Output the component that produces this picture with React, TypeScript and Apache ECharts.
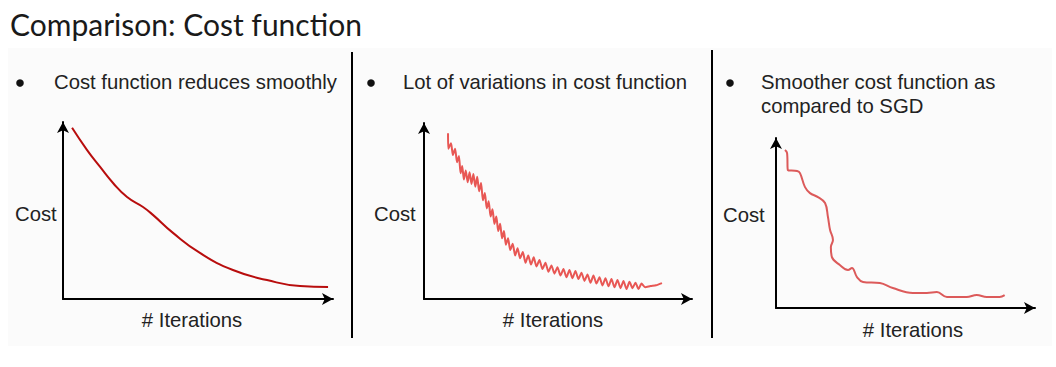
import React, { useEffect, useRef } from "react";
import * as echarts from "echarts";

const title = "Comparison: Cost function";
const bullets = [
  ["Cost function reduces smoothly"],
  ["Lot of variations in cost function"],
  ["Smoother cost function as", "compared to SGD"],
];
const yName = "Cost";
const xName = "# Iterations";

// Batch gradient descent: smooth decrease
const batchData = [
  [3.3, 94.0], [8.7, 81.9], [13.5, 72.5], [18.2, 63.7], [23.3, 56.0], [29.1, 50.5],
  [32.7, 46.2], [40.0, 36.3], [49.8, 25.3], [61.8, 15.9], [74.2, 10.4], [86.2, 7.1], [96.4, 6.6],
];

// Stochastic gradient descent: noisy decrease
const sgdData = [
  [8.8, 91.5], [8.9, 83.0], [9.9, 86.0], [10.6, 79.5], [11.4, 83.0], [12.1, 75.5], [12.8, 79.0],
  [13.4, 69.5], [14.0, 73.5], [14.6, 66.0], [15.3, 71.0], [16.0, 64.5], [16.7, 70.0], [17.4, 63.5],
  [18.1, 69.0], [18.8, 62.0], [19.5, 67.5], [20.2, 59.5], [20.9, 64.0], [21.6, 54.5], [22.3, 58.5],
  [23.0, 50.0], [23.7, 54.0], [24.4, 45.5], [25.1, 49.5], [25.8, 41.5], [26.5, 45.5], [27.2, 37.5],
  [27.9, 41.5], [28.6, 33.5], [29.3, 37.5], [30.0, 30.0], [30.8, 33.5], [31.6, 27.0], [32.5, 30.5],
  [33.4, 24.0], [34.3, 28.0], [35.2, 22.5], [36.2, 26.0], [37.2, 20.0], [38.2, 24.0], [39.2, 19.0],
  [40.2, 23.0], [41.2, 18.0], [42.3, 21.5], [43.4, 16.5], [44.5, 20.0], [45.6, 15.0], [46.7, 18.5],
  [47.8, 14.0], [48.9, 17.5], [50.0, 13.0], [51.1, 16.5], [52.2, 12.0], [53.3, 16.0], [54.4, 11.5],
  [55.5, 15.5], [56.6, 11.0], [57.7, 14.5], [58.8, 10.0], [59.9, 13.5], [61.0, 9.0], [62.1, 13.0],
  [63.2, 8.5], [64.3, 12.0], [65.4, 7.5], [66.5, 11.5], [67.6, 7.0], [68.7, 11.0], [69.8, 6.5],
  [70.9, 10.5], [72.0, 6.0], [73.1, 10.0], [74.2, 5.5], [75.3, 9.5], [76.4, 6.0], [77.5, 9.0],
  [78.6, 5.5], [79.7, 8.5], [81.0, 6.5], [83.0, 7.2], [85.0, 7.6], [87.2, 8.8],
];

// Mini-batch gradient descent: smoother than SGD
const miniBatchData = [
  [3.4, 90.3], [4.2, 88.6], [4.5, 78.9], [8.0, 78.3], [9.1, 77.1], [11.0, 69.1], [12.9, 65.7],
  [15.9, 63.4], [18.6, 60.0], [19.7, 52.0], [20.5, 44.6], [21.6, 38.9], [20.8, 34.9], [21.2, 29.1],
  [24.2, 24.6], [27.3, 21.7], [28.8, 22.9], [30.7, 17.7], [33.0, 14.9], [39.4, 14.3], [44.3, 11.4],
  [51.9, 8.6], [57.2, 8.6], [61.0, 9.1], [64.8, 6.3], [72.3, 6.3], [76.1, 7.4], [79.9, 6.3],
  [84.8, 6.3], [86.7, 7.4],
];

const X_MAX = 98.2;
const Y_MAX = 97.2;

export default function App() {
  const ref = useRef<HTMLDivElement>(null);
  useEffect(() => {
    document.body.style.margin = "0";
    const chart = echarts.init(ref.current!, null, { renderer: "svg" });
    const grids = [
      { left: 63, top: 122, width: 270, height: 177 },
      { left: 424, top: 123, width: 268, height: 176 },
      { left: 776, top: 138, width: 259, height: 170 },
    ];
    const axisLine = {
      show: true,
      symbol: ["none", "arrow"],
      symbolSize: [9, 11],
      lineStyle: { color: "#000", width: 2 },
    };
    const mkAxis = (i: number, max: number) => ({
      type: "value",
      gridIndex: i,
      min: 0,
      max,
      axisLine,
      axisTick: { show: false },
      axisLabel: { show: false },
      splitLine: { show: false },
    });
    const font = "'Liberation Sans', Arial, sans-serif";
    const txt = (text: string, x: number, y: number, align = "left") => ({
      type: "text",
      x,
      y,
      style: {
        text,
        x: 0,
        y: 0,
        font: `20.3px ${font}`,
        fill: "#222",
        textAlign: align,
        textVerticalAlign: "middle",
      },
    });
    const bulletPos = [
      { bx: 20, tx: 54 },
      { bx: 371, tx: 403 },
      { bx: 730, tx: 761 },
    ];
    const graphics: any[] = [
      { type: "rect", shape: { x: 8, y: 48, width: 1044, height: 298 }, style: { fill: "#fbfbfb" }, z: -10 },
      {
        type: "text",
        x: 10,
        y: 24,
        style: { text: title, font: "30px Lato, sans-serif", fill: "#1a1a1a", textVerticalAlign: "middle" },
      },
      { type: "line", shape: { x1: 352, y1: 52, x2: 352, y2: 338 }, style: { stroke: "#000", lineWidth: 2 } },
      { type: "line", shape: { x1: 712, y1: 50, x2: 712, y2: 338 }, style: { stroke: "#000", lineWidth: 2 } },
      txt(yName, 15, 214),
      txt(yName, 374, 214),
      txt(yName, 723, 215),
      txt(xName, 192, 320, "center"),
      txt(xName, 553, 320, "center"),
      txt(xName, 913, 330, "center"),
    ];
    bullets.forEach((lines, i) => {
      graphics.push({ type: "circle", shape: { cx: bulletPos[i].bx, cy: 83, r: 3.8 }, style: { fill: "#111" } });
      lines.forEach((l, j) => graphics.push(txt(l, bulletPos[i].tx, 82 + j * 24)));
    });
    chart.setOption({
      animation: false,
      grid: grids,
      xAxis: [0, 1, 2].map((i) => mkAxis(i, X_MAX)),
      yAxis: [0, 1, 2].map((i) => mkAxis(i, Y_MAX)),
      series: [
        {
          type: "line",
          xAxisIndex: 0,
          yAxisIndex: 0,
          data: batchData,
          smooth: 0.5,
          showSymbol: false,
          lineStyle: { color: "#b80d0d", width: 2 },
        },
        {
          type: "line",
          xAxisIndex: 1,
          yAxisIndex: 1,
          data: sgdData,
          smooth: 0.2,
          showSymbol: false,
          lineStyle: { color: "#e43a36", width: 2, opacity: 0.85 },
        },
        {
          type: "line",
          xAxisIndex: 2,
          yAxisIndex: 2,
          data: miniBatchData,
          smooth: 0.4,
          showSymbol: false,
          lineStyle: { color: "#dc5a5a", width: 2 },
        },
      ],
      graphic: graphics,
    });
    return () => chart.dispose();
  }, []);
  return <div ref={ref} style={{ width: 1056, height: 367 }} />;
}
